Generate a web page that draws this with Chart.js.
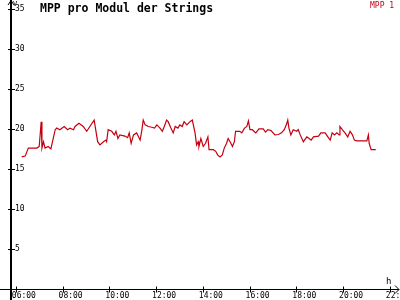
<!DOCTYPE html>
<html>
<head>
<meta charset="utf-8">
<title>MPP pro Modul der Strings</title>
<script src="https://cdn.jsdelivr.net/npm/chart.js@4.4.1/dist/chart.umd.min.js"></script>
<style>
  html, body { margin: 0; padding: 0; background: #ffffff; }
  canvas { display: block; }
</style>
</head>
<body>
<canvas id="chart" width="400" height="300"></canvas>
<script>
// Messwerte (Uhrzeit, Spannung in V)
const times = [
  '06:15', '06:24', '06:32', '06:54', '07:00', '07:05', '07:07', '07:11', '07:15', '07:23',
  '07:30', '07:41', '07:45', '07:53', '08:04', '08:13', '08:19', '08:28', '08:32', '08:42',
  '08:53', '09:02', '09:10', '09:21', '09:30', '09:36', '09:45', '09:51', '09:53', '09:57',
  '10:06', '10:13', '10:17', '10:22', '10:27', '10:40', '10:47', '10:51', '10:56', '11:02',
  '11:10', '11:14', '11:19', '11:23', '11:27', '11:32', '11:40', '11:49', '11:56', '12:02',
  '12:10', '12:16', '12:21', '12:27', '12:31', '12:38', '12:44', '12:49', '12:56', '13:01',
  '13:07', '13:12', '13:19', '13:27', '13:33', '13:40', '13:44', '13:48', '13:50', '13:55',
  '14:01', '14:07', '14:13', '14:16', '14:27', '14:33', '14:38', '14:44', '14:50', '14:55',
  '15:01', '15:05', '15:12', '15:16', '15:21', '15:24', '15:35', '15:40', '15:47', '15:53',
  '15:57', '16:01', '16:07', '16:16', '16:24', '16:35', '16:41', '16:47', '16:55', '17:05',
  '17:14', '17:22', '17:29', '17:35', '17:38', '17:41', '17:46', '17:52', '18:01', '18:05',
  '18:10', '18:18', '18:27', '18:33', '18:38', '18:44', '18:57', '19:03', '19:14', '19:21',
  '19:27', '19:32', '19:38', '19:44', '19:50', '19:52', '19:58', '20:05', '20:12', '20:18',
  '20:24', '20:29', '20:35', '21:01', '21:05', '21:07', '21:12', '21:24'
];
const mppValues = [
  16.5, 16.6, 17.6, 17.6, 17.8, 20.9, 17.6, 18.4, 17.6, 17.8,
  17.5, 19.9, 20.1, 19.9, 20.3, 19.9, 20.1, 19.9, 20.3, 20.7,
  20.3, 19.7, 20.3, 21.1, 18.4, 18.0, 18.4, 18.6, 18.4, 19.9,
  19.7, 19.25, 19.7, 18.8, 19.25, 19.1, 18.9, 19.5, 18.2, 19.25,
  19.5, 19.1, 18.6, 19.7, 21.1, 20.5, 20.3, 20.2, 20.1, 20.5,
  20.1, 19.7, 20.3, 21.1, 20.9, 20.1, 19.5, 20.3, 20.1, 20.5,
  20.3, 20.9, 20.5, 20.9, 21.1, 19.5, 18.0, 18.4, 17.8, 18.8,
  17.8, 18.2, 19.0, 17.4, 17.4, 17.2, 16.75, 16.5, 16.75, 17.6,
  18.2, 18.8, 18.2, 17.8, 18.4, 19.7, 19.7, 19.5, 20.1, 20.3,
  21.0, 19.9, 19.9, 19.5, 20.0, 20.0, 19.6, 19.9, 19.8, 19.25,
  19.3, 19.5, 19.9, 20.6, 21.1, 20.1, 19.25, 19.9, 19.7, 19.9,
  19.25, 18.4, 19.0, 18.8, 18.6, 19.0, 19.1, 19.5, 19.5, 19.0,
  18.6, 19.5, 19.25, 19.5, 19.25, 20.3, 19.9, 19.5, 19.0, 19.7,
  19.25, 18.6, 18.5, 18.5, 19.25, 18.2, 17.4, 17.4
];
const hourTicks = ['06:00', '08:00', '10:00', '12:00', '14:00', '16:00', '18:00', '20:00', '22:00'];
const voltTicks = [5, 10, 15, 20, 25, 30, 35];
const seriesName = 'MPP 1';
const titleText = 'MPP pro Modul der Strings';

const LINE_RED = '#c40010';
const AXIS_COLOR = '#000000';
const MONO = "'DejaVu Sans Mono', monospace";

function toMinutes(hhmm) {
  const [h, m] = hhmm.split(':').map(Number);
  return h * 60 + m;
}

function formatMinutes(v) {
  const h = Math.floor(v / 60);
  const m = Math.round(v % 60);
  return String(h).padStart(2, '0') + ':' + String(m).padStart(2, '0');
}

// Achsen mit Pfeilen, Kreuz-Ticks, Einheiten, Titel und Legende
const axisDecor = {
  id: 'axisDecor',
  afterDraw(chart) {
    const { ctx, chartArea, scales: { x, y } } = chart;
    const ax = Math.round(chartArea.left);
    const ay = Math.round(y.getPixelForValue(0)) + 0.5;

    ctx.save();
    ctx.fillStyle = AXIS_COLOR;
    ctx.strokeStyle = AXIS_COLOR;
    ctx.lineWidth = 1;

    // y-Achse (2px breit, bis unten durchgezogen)
    ctx.fillRect(ax, 0, 2, chart.height);

    ctx.beginPath();
    ctx.moveTo(0, ay);
    ctx.lineTo(chart.width - 1, ay);
    // Pfeile
    ctx.moveTo(ax - 2, 5);
    ctx.lineTo(ax + 1, 0.5);
    ctx.lineTo(ax + 4, 5);
    ctx.moveTo(chart.width - 5, ay - 4);
    ctx.lineTo(chart.width - 1, ay);
    ctx.lineTo(chart.width - 5, ay + 4);
    // Ticks
    y.ticks.forEach(t => {
      const py = Math.round(y.getPixelForValue(t.value)) + 0.5;
      ctx.moveTo(ax - 2, py);
      ctx.lineTo(ax + 5, py);
    });
    x.ticks.forEach(t => {
      const px = Math.round(x.getPixelForValue(t.value)) + 0.5;
      ctx.moveTo(px, ay - 3);
      ctx.lineTo(px, ay + 3);
    });
    ctx.stroke();

    // Einheiten
    ctx.font = '7px ' + MONO;
    ctx.textBaseline = 'alphabetic';
    ctx.textAlign = 'left';
    ctx.fillText('V', ax + 3, 6);
    ctx.font = '9px ' + MONO;
    ctx.fillText('h', 386, 284);

    // Titel
    ctx.font = 'bold 11.5px ' + MONO;
    ctx.fillText(titleText, 40, 12);

    // Legende
    ctx.font = '8px ' + MONO;
    ctx.fillStyle = LINE_RED;
    ctx.fillText(seriesName, 370, 8);
    ctx.restore();
  }
};

const points = times.map((t, i) => ({ x: toMinutes(t), y: mppValues[i] }));

new Chart(document.getElementById('chart'), {
  type: 'line',
  data: {
    datasets: [{
      label: seriesName,
      data: points,
      borderColor: LINE_RED,
      borderWidth: 1.2,
      pointRadius: 0,
      tension: 0,
      fill: false,
    }],
  },
  options: {
    responsive: false,
    animation: false,
    devicePixelRatio: 1,
    layout: {
      padding: { left: 10, right: 2, top: 0, bottom: 0 },
    },
    plugins: {
      legend: { display: false },
      title: { display: false },
      tooltip: { enabled: false },
    },
    scales: {
      x: {
        type: 'linear',
        min: 345,
        max: 1341,
        grid: { display: false, drawTicks: false },
        border: { display: false },
        afterBuildTicks: scale => {
          scale.ticks = hourTicks.map(t => ({ value: toMinutes(t) }));
        },
        afterFit: scale => {
          scale.height = 11;
          scale.paddingLeft = 0;
          scale.paddingRight = 0;
        },
        ticks: {
          callback: v => formatMinutes(v),
          align: 'start',
          labelOffset: -4,
          padding: 2,
          maxRotation: 0,
          autoSkip: false,
          color: AXIS_COLOR,
          font: { family: MONO, size: 8 },
        },
      },
      y: {
        min: 0,
        max: 36.1,
        grid: { display: false, drawTicks: false },
        border: { display: false },
        afterBuildTicks: scale => {
          scale.ticks = voltTicks.map(v => ({ value: v }));
        },
        afterFit: scale => {
          scale.width = 0;
          scale.paddingTop = 0;
          scale.paddingBottom = 0;
        },
        ticks: {
          mirror: true,
          padding: 5,
          color: AXIS_COLOR,
          font: { family: MONO, size: 8 },
        },
      },
    },
  },
  plugins: [axisDecor],
});
</script>
</body>
</html>
